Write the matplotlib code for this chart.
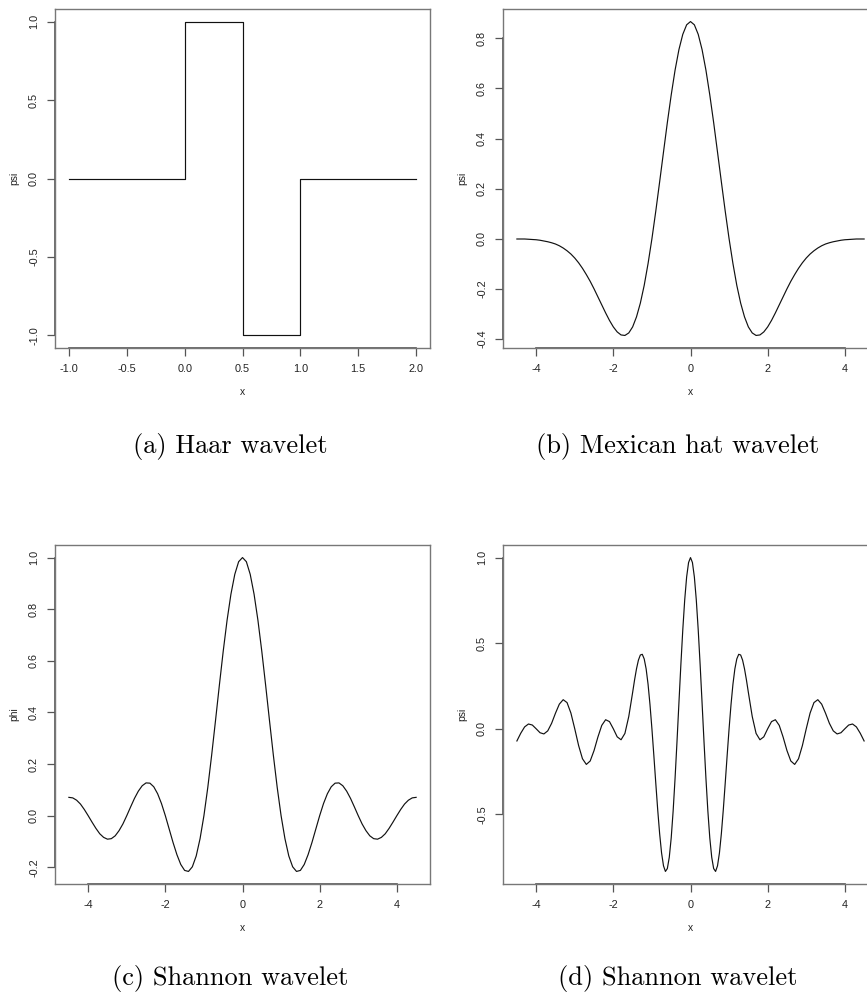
import numpy as np
import matplotlib.pyplot as plt

plt.rcParams['font.family'] = ['Liberation Sans', 'DejaVu Sans']

# --- Haar wavelet (step function) ---
x_haar = [-1.0, 0.0, 0.0, 0.5, 0.5, 1.0, 1.0, 2.0]
psi_haar = [0.0, 0.0, 1.0, 1.0, -1.0, -1.0, 0.0, 0.0]

# --- Mexican hat, read every 0.1 from -4.5 to 4.5 ---
x_mexhat = np.arange(-45, 46) / 10
psi_mexhat = [-0.001, -0.001, -0.001, -0.002, -0.003, -0.004, -0.006, -0.009, -0.012, -0.016,
              -0.021, -0.028, -0.037, -0.048, -0.061, -0.077, -0.096, -0.118, -0.143, -0.170,
              -0.200, -0.232, -0.264, -0.296, -0.326, -0.352, -0.372, -0.384, -0.386, -0.376,
              -0.352, -0.312, -0.257, -0.186, -0.099, 0.000, 0.110, 0.227, 0.346, 0.464,
              0.574, 0.673, 0.755, 0.816, 0.854, 0.867, 0.854, 0.816, 0.755, 0.673,
              0.574, 0.464, 0.346, 0.227, 0.110, 0.000, -0.099, -0.186, -0.257, -0.312,
              -0.352, -0.376, -0.386, -0.384, -0.372, -0.352, -0.326, -0.296, -0.264, -0.232,
              -0.200, -0.170, -0.143, -0.118, -0.096, -0.077, -0.061, -0.048, -0.037, -0.028,
              -0.021, -0.016, -0.012, -0.009, -0.006, -0.004, -0.003, -0.002, -0.001, -0.001,
              -0.001]

# --- Shannon scaling function (phi), every 0.1 ---
x_phi = np.arange(-45, 46) / 10
phi_shannon = [0.071, 0.069, 0.060, 0.045, 0.024, 0.000, -0.025, -0.049, -0.070, -0.084,
               -0.091, -0.089, -0.078, -0.058, -0.032, 0.000, 0.034, 0.067, 0.095, 0.116,
               0.127, 0.126, 0.112, 0.085, 0.047, 0.000, -0.052, -0.104, -0.151, -0.189,
               -0.212, -0.216, -0.198, -0.156, -0.089, 0.000, 0.109, 0.234, 0.368, 0.505,
               0.637, 0.757, 0.858, 0.935, 0.984, 1.000, 0.984, 0.935, 0.858, 0.757,
               0.637, 0.505, 0.368, 0.234, 0.109, 0.000, -0.089, -0.156, -0.198, -0.216,
               -0.212, -0.189, -0.151, -0.104, -0.052, 0.000, 0.047, 0.085, 0.112, 0.126,
               0.127, 0.116, 0.095, 0.067, 0.034, 0.000, -0.032, -0.058, -0.078, -0.089,
               -0.091, -0.084, -0.070, -0.049, -0.025, 0.000, 0.024, 0.045, 0.060, 0.069,
               0.071]

# --- Shannon wavelet (psi): 0.1 steps outside, 0.05 steps for |x| <= 1.5 ---
x_psi = np.concatenate([np.arange(-45, -15) / 10, np.arange(-30, 31) / 20, np.arange(16, 46) / 10])
psi_shannon = [-0.071, -0.026, 0.011, 0.028, 0.022, 0.000, -0.023, -0.030, -0.012, 0.032,
               0.091, 0.144, 0.170, 0.153, 0.092, 0.000, -0.098, -0.175, -0.208, -0.188,
               -0.127, -0.048, 0.020, 0.053, 0.042, 0.000, -0.047, -0.064, -0.027, 0.072,
               0.212, 0.285, 0.350, 0.401, 0.431, 0.435, 0.408, 0.350, 0.260, 0.141,
               0.000, -0.156, -0.317, -0.473, -0.612, -0.725, -0.800, -0.833, -0.816, -0.750,
               -0.637, -0.480, -0.289, -0.075, 0.151, 0.373, 0.578, 0.753, 0.887, 0.971,
               1.000,
               0.971, 0.887, 0.753, 0.578, 0.373, 0.151, -0.075, -0.289, -0.480, -0.637,
               -0.750, -0.816, -0.833, -0.800, -0.725, -0.612, -0.473, -0.317, -0.156, 0.000,
               0.141, 0.260, 0.350, 0.408, 0.435, 0.431, 0.401, 0.350, 0.285, 0.212,
               0.072, -0.027, -0.064, -0.047, 0.000, 0.042, 0.053, 0.020, -0.048, -0.127,
               -0.188, -0.208, -0.175, -0.098, 0.000, 0.092, 0.153, 0.170, 0.144, 0.091,
               0.032, -0.012, -0.030, -0.023, 0.000, 0.022, 0.028, 0.011, -0.026, -0.071]

haar_xticks = [-1.0, -0.5, 0.0, 0.5, 1.0, 1.5, 2.0]
haar_yticks = [-1.0, -0.5, 0.0, 0.5, 1.0]
wide_xticks = [-4, -2, 0, 2, 4]
mexhat_yticks = [-0.4, -0.2, 0.0, 0.2, 0.4, 0.6, 0.8]
phi_yticks = [-0.2, 0.0, 0.2, 0.4, 0.6, 0.8, 1.0]
psi_yticks = [-0.5, 0.0, 0.5, 1.0]

captions = ["(a) Haar wavelet", "(b) Mexican hat wavelet",
            "(c) Shannon wavelet", "(d) Shannon wavelet"]

W, H = 867, 997
fig = plt.figure(figsize=(W / 100, H / 100), dpi=100)


def add_box(left, top, right, bottom):
    return fig.add_axes([left / W, 1 - bottom / H, (right - left) / W, (bottom - top) / H])


def r_plot(ax, x, y, xticks, yticks, xfmt, yfmt, ylab):
    ax.plot(x, y, color='#111111', lw=0.85)
    # R-style 4% padding
    xlo, xhi = min(x), max(x)
    ylo, yhi = min(y), max(y)
    ax.set_xlim(xlo - 0.04 * (xhi - xlo), xhi + 0.04 * (xhi - xlo))
    ax.set_ylim(ylo - 0.04 * (yhi - ylo), yhi + 0.04 * (yhi - ylo))
    ax.set_xticks(xticks)
    ax.set_xticklabels([xfmt.format(t) for t in xticks])
    ax.set_yticks(yticks)
    ax.set_yticklabels([yfmt.format(t) for t in yticks], rotation=90, va='center')
    ax.tick_params(direction='out', length=6, width=0.9, color='#555555',
                   labelsize=7.8, pad=5.5, labelcolor='#222222')
    for sp in ax.spines.values():
        sp.set_color('#777777')
        sp.set_linewidth(1.0)
    # axis lines between first and last tick (drawn over the box)
    y0 = ax.get_ylim()[0]
    x0 = ax.get_xlim()[0]
    ax.plot([xticks[0], xticks[-1]], [y0, y0], color='#555555', lw=1.2, clip_on=False)
    ax.plot([x0, x0], [yticks[0], yticks[-1]], color='#555555', lw=1.2, clip_on=False)
    ax.set_xlabel('x', fontsize=7.4, color='#222222')
    ax.set_ylabel(ylab, fontsize=7.4, color='#222222')
    ax.xaxis.set_label_coords(0.5, -39 / 339)
    ax.yaxis.set_label_coords(-36 / 375, 0.5)


ax_a = add_box(55, 9, 430, 348)
ax_b = add_box(503, 9, 878, 348)
ax_c = add_box(55, 545, 430, 884)
ax_d = add_box(503, 545, 878, 884)

r_plot(ax_a, x_haar, psi_haar, haar_xticks, haar_yticks, '{:.1f}', '{:.1f}', 'psi')
r_plot(ax_b, x_mexhat, psi_mexhat, wide_xticks, mexhat_yticks, '{:d}', '{:.1f}', 'psi')
r_plot(ax_c, x_phi, phi_shannon, wide_xticks, phi_yticks, '{:d}', '{:.1f}', 'phi')
r_plot(ax_d, x_psi, psi_shannon, wide_xticks, psi_yticks, '{:d}', '{:.1f}', 'psi')

cap_pos = [(230, 446), (678, 446), (230, 978), (678, 978)]
for (cx, cy), txt in zip(cap_pos, captions):
    fig.text(cx / W, 1 - cy / H, txt, family='cmr10', fontsize=19,
             ha='center', va='center')

fig.savefig('out.png', dpi=100)
